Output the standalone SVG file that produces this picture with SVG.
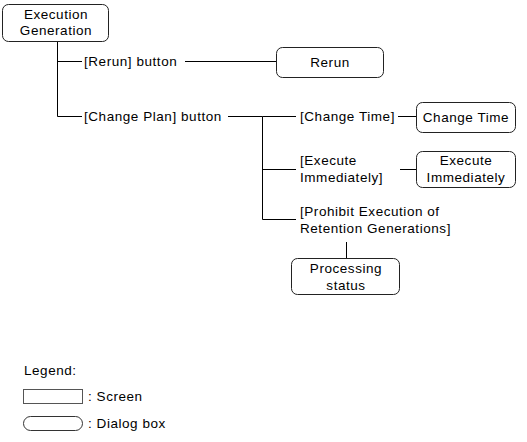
<svg xmlns="http://www.w3.org/2000/svg" width="527" height="442" viewBox="0 0 527 442">
<style>
text{font-family:"Liberation Sans",Arial,sans-serif;font-size:13.5px;letter-spacing:0.55px;fill:#000}
.c{text-anchor:middle}
.box{fill:#fff;stroke:#222;stroke-width:1}
.ln{stroke:#000;stroke-width:1;fill:none}
</style>
<rect width="527" height="442" fill="#fff"/>
<g id="connectors">
<path class="ln" d="M57.5 41V116.5H82M57.5 61.5H82M185 61.5H276M228 116.5H262.5M262.5 116.5V219.5H296M262.5 116.5H296M262.5 169.5H296M398 116.5H416M400 169.5H416M346.5 242V258"/>
</g>
<g id="execution-generation">
<rect class="box" x="2.5" y="4.5" width="106" height="37" rx="6"/>
<text class="c" x="56" y="19">Execution</text>
<text class="c" x="56" y="35">Generation</text>
</g>
<g id="rerun-button"><text x="84" y="66">[Rerun] button</text></g>
<g id="change-plan-button"><text x="84" y="121">[Change Plan] button</text></g>
<g id="rerun">
<rect class="box" x="276.5" y="47.5" width="107" height="30" rx="6"/>
<text class="c" x="330" y="67">Rerun</text>
</g>
<g id="change-time-label"><text x="300" y="121">[Change Time]</text></g>
<g id="change-time">
<rect class="box" x="416.5" y="102.5" width="99" height="30" rx="6"/>
<text class="c" x="466" y="122">Change Time</text>
</g>
<g id="execute-immediately-label">
<text x="300" y="165">[Execute</text>
<text x="300" y="182">Immediately]</text>
</g>
<g id="execute-immediately">
<rect class="box" x="416.5" y="151.5" width="99" height="36" rx="6"/>
<text class="c" x="466" y="165">Execute</text>
<text class="c" x="466" y="182">Immediately</text>
</g>
<g id="prohibit-label">
<text x="300" y="216">[Prohibit Execution of</text>
<text x="300" y="233">Retention Generations]</text>
</g>
<g id="processing-status">
<rect class="box" x="291.5" y="258.5" width="108" height="36" rx="6"/>
<text class="c" x="346" y="273">Processing</text>
<text class="c" x="346" y="290">status</text>
</g>
<g id="legend">
<text x="24" y="375">Legend:</text>
<rect x="23.5" y="389.5" width="59" height="14" fill="#fff" stroke="#555"/>
<text x="88" y="401">: Screen</text>
<rect x="23.5" y="416.5" width="59" height="14" rx="7" fill="#fff" stroke="#333"/>
<text x="88" y="428">: Dialog box</text>
</g>
</svg>
